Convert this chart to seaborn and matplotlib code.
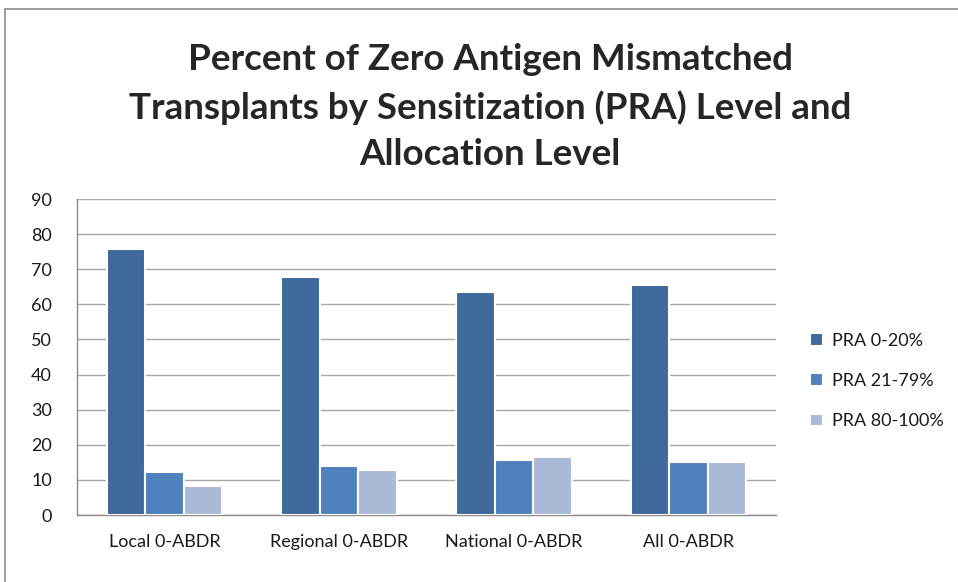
import matplotlib
matplotlib.use("Agg")
import matplotlib.pyplot as plt
import seaborn as sns
import pandas as pd
from matplotlib.lines import Line2D

categories = ["Local 0-ABDR", "Regional 0-ABDR", "National 0-ABDR", "All 0-ABDR"]
series_names = ["PRA 0-20%", "PRA 21-79%", "PRA 80-100%"]
pra_0_20 = [75.8, 67.9, 63.4, 65.5]
pra_21_79 = [12.2, 14.0, 15.6, 15.0]
pra_80_100 = [8.3, 12.8, 16.4, 15.0]
colors = ["#3F6A9B", "#4F81BD", "#AABAD7"]

rows = []
for name, vals in zip(series_names, [pra_0_20, pra_21_79, pra_80_100]):
    for c, v in zip(categories, vals):
        rows.append({"Category": c, "Series": name, "Value": v})
df = pd.DataFrame(rows)

sns.set_theme(style="white")
plt.rcParams["font.family"] = ["Lato", "DejaVu Sans"]

fig = plt.figure(figsize=(9.58, 5.82), dpi=100)
ax = fig.add_axes([77/958, 1-515/582, (776-77)/958, (515-199)/582])

sns.barplot(data=df, x="Category", y="Value", hue="Series", palette=colors,
            width=0.66, edgecolor="white", linewidth=1.5, ax=ax, zorder=3,
            saturation=1)

ax.set_ylim(0, 90)
ax.set_yticks(range(0, 91, 10))
ax.set_xlim(-0.5, 3.5)
ax.yaxis.grid(True, color="#A8A8A8", linewidth=1.0, zorder=0)
ax.set_axisbelow(True)
for s in ["top", "right"]:
    ax.spines[s].set_visible(False)
for s in ["left", "bottom"]:
    ax.spines[s].set_color("#8C8C8C")
    ax.spines[s].set_linewidth(1.0)
ax.set_xlabel("")
ax.set_ylabel("")
ax.tick_params(axis="both", labelsize=13, colors="#000000", length=0)
ax.tick_params(axis="y", pad=18)
ax.tick_params(axis="x", pad=14)
for lbl in ax.get_yticklabels():
    lbl.set_horizontalalignment("right")
for lbl in ax.get_xticklabels() + ax.get_yticklabels():
    lbl.set_color("#1a1a1a")

leg = ax.legend(loc="center left", frameon=False, fontsize=13,
                handlelength=0.7, handleheight=0.7,
                labelspacing=1.35, handletextpad=0.5)
leg.set_bbox_to_anchor((794/958, 1-381/582), transform=fig.transFigure)
for t in leg.get_texts():
    t.set_color("#1a1a1a")

fig.text(490/958, 1-107/582,
         "Percent of Zero Antigen Mismatched\nTransplants by Sensitization (PRA) Level and\nAllocation Level",
         ha="center", va="center", fontsize=26.5, fontweight="bold", linespacing=1.5)

fig.add_artist(Line2D([5/958, 5/958], [0, 1-9/582], transform=fig.transFigure, color="#8C8C8C", lw=1.2))
fig.add_artist(Line2D([5/958, 1], [1-9/582, 1-9/582], transform=fig.transFigure, color="#8C8C8C", lw=1.2))

fig.savefig("out.png", dpi=100)
